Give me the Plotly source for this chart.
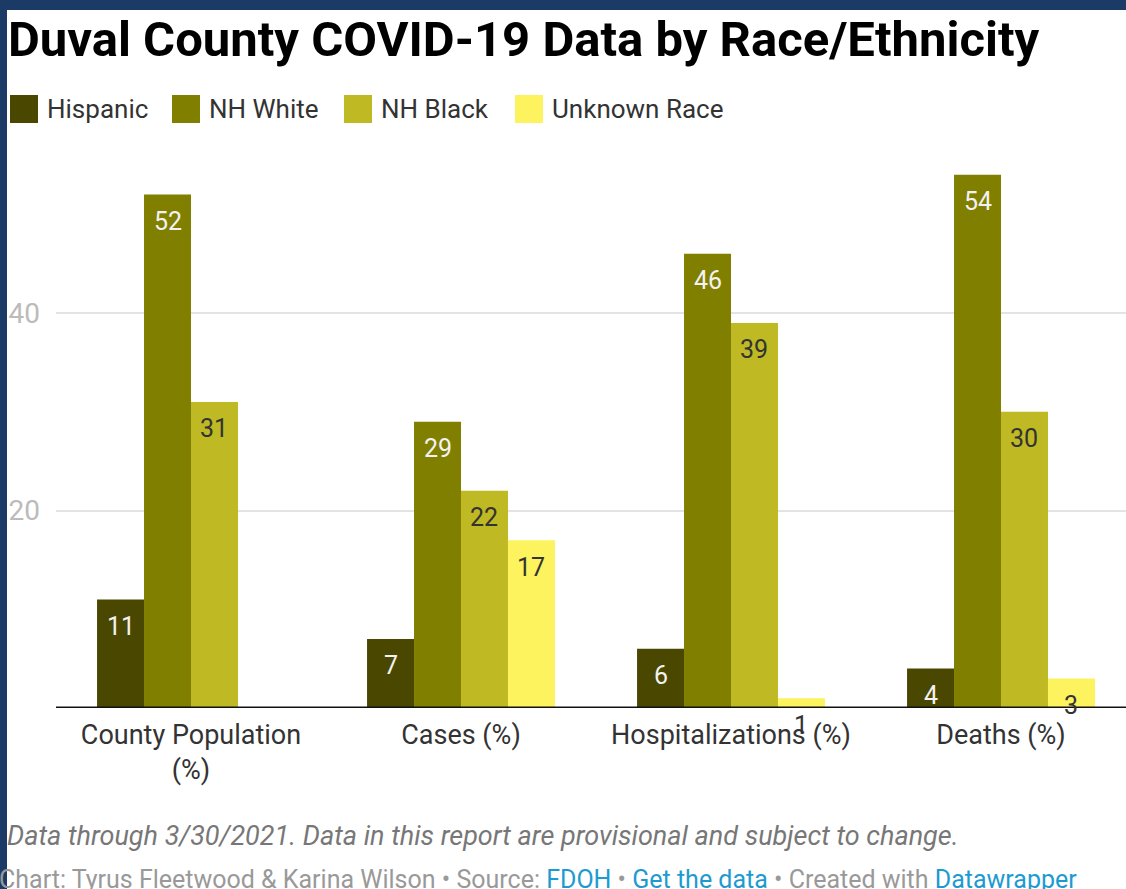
import plotly.graph_objects as go

# data
categories = ['County Population<br>(%)', 'Cases (%)', 'Hospitalizations (%)', 'Deaths (%)']
series_names = ['Hispanic', 'NH White', 'NH Black', 'Unknown Race']
hispanic = [11, 7, 6, 4]
nh_white = [52, 29, 46, 54]
nh_black = [31, 22, 39, 30]
unknown_race = [None, 17, 1, 3]
y_ticks = [20, 40]

colors = ['#4a4800', '#807f00', '#bfb924', '#fdf35f']
label_colors = ['#f2f2f2', '#f2f2f2', '#333333', '#333333']

# page geometry (pixels)
W, H = 1126, 889
L, R, T, B = 56, 0, 155, 181
PW, PH = W - L - R, H - T - B
cat_px = 270
bargap = 0.304


def px_x(p):
    return (p - L) / PW


def px_y(p):
    return (H - B - p) / PH


fig = go.Figure()
all_values = [hispanic, nh_white, nh_black, unknown_race]
for name, vals, col in zip(series_names, all_values, colors):
    fig.add_trace(go.Bar(name=name, x=categories, y=vals, marker_color=col,
                         marker_line_width=0, showlegend=False))

annotations = []
# value labels just under the top of every bar
bar_px = cat_px * (1 - bargap) / len(series_names)
for i, (vals, tcol) in enumerate(zip(all_values, label_colors)):
    shift = (i - (len(series_names) - 1) / 2) * bar_px
    for cat, v in zip(categories, vals):
        if v is None:
            continue
        annotations.append(dict(x=cat, y=v, xref='x', yref='y', text=str(v), showarrow=False,
                                xshift=shift, yshift=-27, yanchor='middle',
                                font=dict(family='Roboto', size=25, color=tcol)))

# title
annotations.append(dict(x=px_x(6), y=px_y(40), xref='paper', yref='paper', xanchor='left', yanchor='middle',
                        text='<b>Duval County COVID-19 Data by Race/Ethnicity</b>', showarrow=False,
                        font=dict(family='Roboto', size=49, color='#000000')))

# legend drawn by hand so the swatches match
shapes = []
legend_x = [10, 172, 344, 515]
for name, col, lx in zip(series_names, colors, legend_x):
    shapes.append(dict(type='rect', xref='paper', yref='paper', x0=px_x(lx), x1=px_x(lx + 28),
                       y0=px_y(123), y1=px_y(95), fillcolor=col, line_width=0))
    annotations.append(dict(x=px_x(lx + 35), y=px_y(109), xref='paper', yref='paper', xanchor='left',
                            yanchor='middle', text=name, showarrow=False,
                            font=dict(family='Roboto', size=26, color='#333333')))

# notes
annotations.append(dict(x=px_x(5), y=px_y(836), xref='paper', yref='paper', xanchor='left', yanchor='middle',
                        text='<i>Data through 3/30/2021. Data in this report are provisional and subject to change.</i>',
                        showarrow=False, font=dict(family='Roboto', size=27, color='#777777')))
link = '#1d9bd1'
annotations.append(dict(x=px_x(-3), y=px_y(879), xref='paper', yref='paper', xanchor='left', yanchor='middle',
                        text=('Chart: Tyrus Fleetwood & Karina Wilson • Source: '
                              f"<span style='color:{link}'>FDOH</span> • "
                              f"<span style='color:{link}'>Get the data</span> • Created with "
                              f"<span style='color:{link}'>Datawrapper</span>"),
                        showarrow=False, font=dict(family='Roboto', size=25, color='#999999')))

# baseline
shapes.append(dict(type='line', xref='paper', yref='y', x0=0, x1=1, y0=0, y1=0,
                   line=dict(color='#111111', width=3), layer='above'))
# dark blue frame on top and left
frame = '#1b3a66'
shapes.append(dict(type='rect', xref='paper', yref='paper', x0=px_x(0), x1=px_x(7), y0=px_y(H), y1=px_y(0),
                   fillcolor=frame, line_width=0))
shapes.append(dict(type='rect', xref='paper', yref='paper', x0=px_x(0), x1=px_x(W), y0=px_y(10), y1=px_y(0),
                   fillcolor=frame, line_width=0))

fig.update_layout(
    width=W, height=H,
    margin=dict(l=L, r=R, t=T, b=B),
    paper_bgcolor='white', plot_bgcolor='white',
    barmode='group', bargap=bargap, bargroupgap=0,
    font=dict(family='Roboto', color='#333333'),
    xaxis=dict(type='category', range=[-0.5, -0.5 + PW / cat_px], showgrid=False, showline=False,
               ticks='', tickfont=dict(size=27, color='#333333'), ticklabelstandoff=8),
    yaxis=dict(range=[0, 56], tickvals=y_ticks, showgrid=True, gridcolor='#e3e3e3', gridwidth=1.5,
               zeroline=False, showline=False, ticks='', tickfont=dict(size=28, color='#bbbbbb'),
               ticklabelstandoff=15),
    annotations=annotations,
    shapes=shapes,
)

# drop the browser's default body margin so the figure sits at the page corner
fig.write_html('out.html', config={'displayModeBar': False},
               post_script="document.body.style.margin='0';")
